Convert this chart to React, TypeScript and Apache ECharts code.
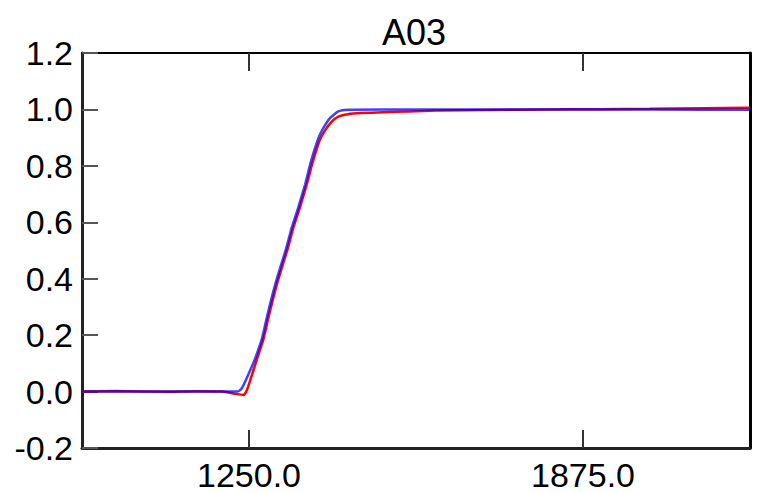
import React, { useEffect, useRef } from "react";
import * as echarts from "echarts";

const titleText = "A03";
const xTickValues = [1250, 1875];
const xMin = 937.5;
const xMax = 2187.5;
const yMin = -0.2;
const yMax = 1.2;

// Blue series (x, y)
const blueX = [937.5, 1000, 1100, 1200, 1229, 1236, 1242.5, 1251, 1261, 1274, 1284, 1300, 1319, 1330, 1342, 1355, 1366, 1380, 1389, 1402, 1417, 1436, 1500, 1700, 1900, 2100, 2187.5];
const blueY = [0.0, 0.0, 0.0, 0.0, 0.0, 0.01, 0.034, 0.07, 0.115, 0.186, 0.268, 0.386, 0.504, 0.581, 0.651, 0.734, 0.816, 0.899, 0.934, 0.97, 0.993, 0.999, 1.0, 1.0, 1.0, 0.999, 0.999];

// Red series (x, y)
const redX = [937.5, 1000, 1100, 1150, 1200, 1225, 1240, 1246, 1254, 1264, 1277, 1287, 1303, 1322, 1333, 1345, 1358, 1369, 1382, 1392, 1404, 1418, 1435, 1460, 1500, 1550, 1600, 1700, 1800, 1900, 2000, 2100, 2187.5];
const redY = [0.0, 0.002, -0.001, 0.001, 0.0, -0.008, -0.012, 0.005, 0.05, 0.11, 0.186, 0.268, 0.386, 0.504, 0.581, 0.651, 0.734, 0.812, 0.89, 0.925, 0.955, 0.975, 0.983, 0.987, 0.99, 0.993, 0.996, 0.998, 1.0, 1.001, 1.002, 1.004, 1.006];

const FONT = "'Liberation Sans', Arial, sans-serif";

export default function App() {
  const ref = useRef<HTMLDivElement>(null);
  useEffect(() => {
    if (!ref.current) return;
    const chart = echarts.init(ref.current, null, { renderer: "svg" });
    const blue = blueX.map((x, i) => [x, blueY[i]]);
    const red = redX.map((x, i) => [x, redY[i]]);
    const fmt = (v: number) => (Math.round(v * 10) / 10).toFixed(1);
    chart.setOption({
      animation: false,
      backgroundColor: "#ffffff",
      textStyle: { fontFamily: FONT },
      graphic: [
        {
          type: "text",
          x: 414,
          y: 32,
          style: {
            text: titleText,
            font: `36px ${FONT}`,
            fill: "#000",
            textAlign: "center",
            textVerticalAlign: "middle",
          },
        },
      ],
      grid: { left: 82, right: 16, top: 53, bottom: 45, containLabel: false },
      xAxis: [
        {
          type: "value",
          min: xMin,
          max: xMax,
          interval: 312.5,
          position: "bottom",
          axisLine: { show: true, onZero: false, lineStyle: { color: "#222", width: 3 } },
          axisTick: { show: true, inside: true, length: 18, customValues: xTickValues, lineStyle: { color: "#333", width: 2 } },
          axisLabel: { show: true, customValues: xTickValues, formatter: fmt, fontSize: 34, color: "#000", margin: 10, fontFamily: FONT },
          splitLine: { show: false },
        },
        {
          type: "value",
          min: xMin,
          max: xMax,
          interval: 312.5,
          position: "top",
          axisLine: { show: true, onZero: false, lineStyle: { color: "#000", width: 2 } },
          axisTick: { show: true, inside: true, length: 18, customValues: xTickValues, lineStyle: { color: "#333", width: 2 } },
          axisLabel: { show: false },
          splitLine: { show: false },
        },
      ],
      yAxis: [
        {
          type: "value",
          min: yMin,
          max: yMax,
          interval: 0.2,
          position: "left",
          axisLine: { show: true, onZero: false, lineStyle: { color: "#222", width: 3 } },
          axisTick: { show: true, inside: true, length: 16, lineStyle: { color: "#555", width: 2 } },
          axisLabel: { show: true, formatter: fmt, fontSize: 34, color: "#000", margin: 9, fontFamily: FONT },
          splitLine: { show: false },
        },
        {
          type: "value",
          min: yMin,
          max: yMax,
          interval: 0.2,
          position: "right",
          axisLine: { show: true, onZero: false, lineStyle: { color: "#000", width: 3 } },
          axisTick: { show: false },
          axisLabel: { show: false },
          splitLine: { show: false },
        },
      ],
      series: [
        {
          type: "line",
          data: red,
          xAxisIndex: 0,
          yAxisIndex: 0,
          showSymbol: false,
          smooth: 0.15,
          lineStyle: { color: "#ff0000", width: 2.5 },
          z: 2,
        },
        {
          type: "line",
          data: blue,
          xAxisIndex: 0,
          yAxisIndex: 0,
          showSymbol: false,
          smooth: 0.15,
          lineStyle: { color: "#0000ff", width: 2.5, opacity: 0.75 },
          z: 3,
        },
      ],
    });
    return () => chart.dispose();
  }, []);
  return (
    <div
      ref={ref}
      style={{ position: "fixed", left: 0, top: 0, width: 766, height: 493, background: "#fff" }}
    />
  );
}
